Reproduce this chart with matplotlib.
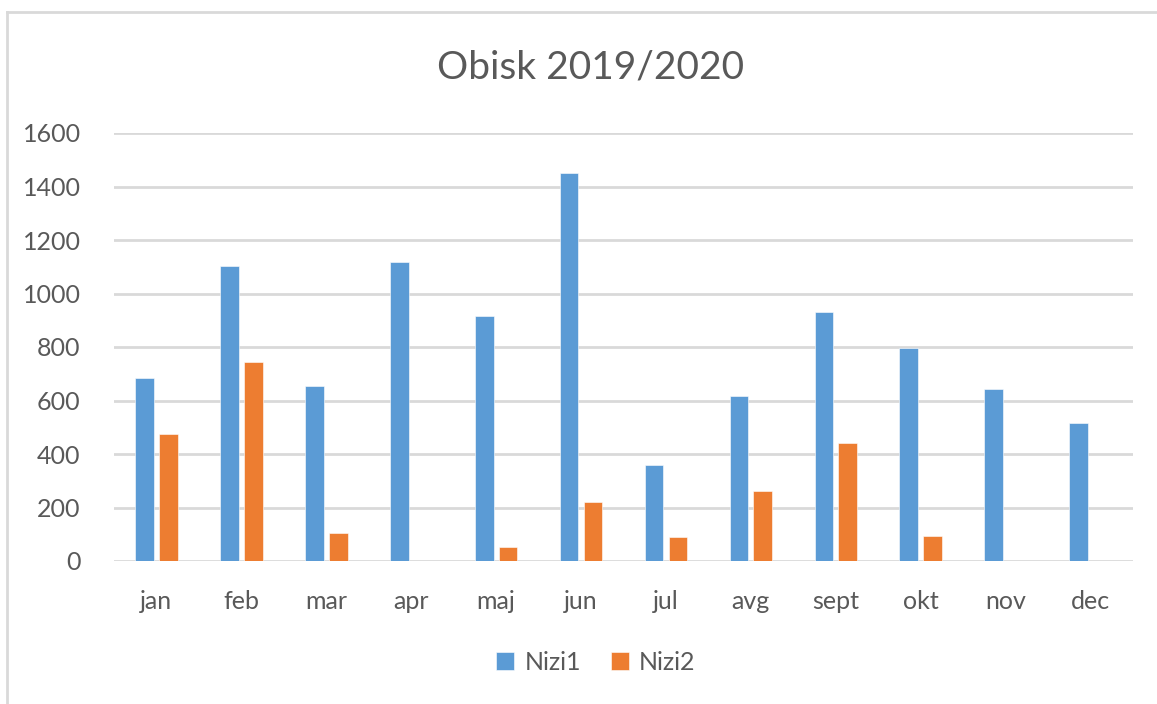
import numpy as np
import matplotlib
matplotlib.use("Agg")
import matplotlib.pyplot as plt
from matplotlib.lines import Line2D

# ========================================
# DATA
# ========================================
months = ["jan", "feb", "mar", "apr", "maj", "jun",
          "jul", "avg", "sept", "okt", "nov", "dec"]
nizi1 = [684, 1103, 655, 1119, 916, 1450, 360, 615, 932, 795, 644, 516]
nizi2 = [475, 743, 105, 0, 53, 221, 88, 261, 441, 92, 0, 0]
y_ticks = [0, 200, 400, 600, 800, 1000, 1200, 1400, 1600]

BLUE = "#5B9BD5"
ORANGE = "#ED7D31"
TEXT = "#595959"
GRID = "#D9D9D9"

plt.rcParams['font.family'] = ['Lato', 'DejaVu Sans']

fig = plt.figure(figsize=(11.57, 7.04), dpi=100)
ax = fig.add_axes([114 / 1157, 1 - 561 / 704, (1133 - 114) / 1157, (561 - 133) / 704])

x = np.arange(len(months))
w = 0.22
off = 0.14
ax.bar(x - off, nizi1, width=w, color=BLUE, edgecolor="white", linewidth=0.4,
       label="Nizi1", zorder=3)
ax.bar(x + off, [v if v > 0 else np.nan for v in nizi2], width=w, color=ORANGE,
       edgecolor="white", linewidth=0.4, label="Nizi2", zorder=3)

ax.set_xlim(-0.5, len(months) - 0.5)
ax.set_ylim(0, 1600)
ax.set_yticks(y_ticks)
ax.set_yticklabels([str(t) for t in y_ticks])
ax.set_xticks(x)
ax.set_xticklabels(months)
ax.tick_params(axis='both', length=0, colors=TEXT, labelsize=18)
ax.tick_params(axis='y', pad=24)
ax.tick_params(axis='x', pad=21)
ax.grid(True, axis='y', color=GRID, linewidth=2, zorder=0)
for s in ax.spines.values():
    s.set_visible(False)

fig.text(0.51, 1 - 68 / 704, "Obisk 2019/2020", ha='center', va='center',
         fontsize=28, color=TEXT)

leg = fig.legend(loc='center', bbox_to_anchor=(0.515, 1 - 662 / 704), ncol=2,
                 frameon=False, fontsize=18, handlelength=0.72, handleheight=0.72,
                 handletextpad=0.4, columnspacing=1.2)
for t in leg.get_texts():
    t.set_color(TEXT)

# outer chart frame (left and top edges visible)
fig.add_artist(Line2D([7 / 1157, 7 / 1157], [0, 1 - 12 / 704],
                      transform=fig.transFigure, color=GRID, linewidth=2))
fig.add_artist(Line2D([7 / 1157, 1], [1 - 12 / 704, 1 - 12 / 704],
                      transform=fig.transFigure, color=GRID, linewidth=2))

fig.savefig("out.png", dpi=100, facecolor="white")
